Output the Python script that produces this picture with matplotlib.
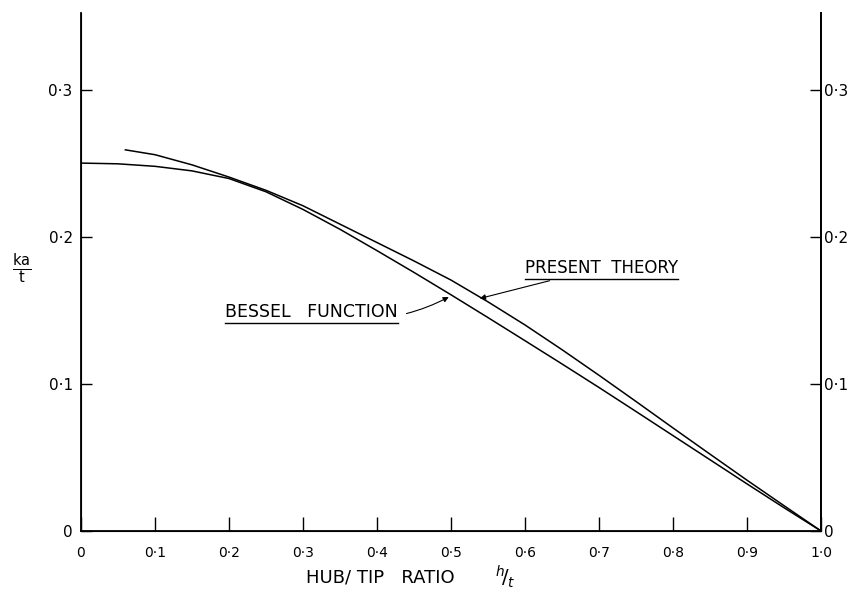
import matplotlib
matplotlib.use("Agg")
import matplotlib.pyplot as plt
from matplotlib.lines import Line2D
from matplotlib.text import Text

# values
bessel_x = [0.00, 0.05, 0.10, 0.15, 0.20, 0.25, 0.30, 0.35, 0.40, 0.45, 0.50,
            0.55, 0.60, 0.65, 0.70, 0.75, 0.80, 0.85, 0.90, 0.95, 1.00]
bessel_y = [0.250, 0.2495, 0.2478, 0.2447, 0.2395, 0.2305, 0.2185, 0.205, 0.1905,
            0.1757, 0.1605, 0.145, 0.1293, 0.1135, 0.0975, 0.0812, 0.0648, 0.0484,
            0.032, 0.0158, 0.000]

theory_x = [0.06, 0.10, 0.15, 0.20, 0.25, 0.30, 0.35, 0.40, 0.45, 0.50, 0.55,
            0.60, 0.65, 0.70, 0.75, 0.80, 0.85, 0.90, 0.95, 1.00]
theory_y = [0.259, 0.2557, 0.2488, 0.2405, 0.2315, 0.221, 0.2085, 0.196, 0.1835,
            0.1705, 0.1557, 0.140, 0.1232, 0.1058, 0.088, 0.070, 0.0522, 0.0345,
            0.0172, 0.000]

x_ticks = [0.0, 0.1, 0.2, 0.3, 0.4, 0.5, 0.6, 0.7, 0.8, 0.9, 1.0]
x_tick_labels = ["0", "0·1", "0·2", "0·3", "0·4", "0·5", "0·6", "0·7", "0·8", "0·9", "1·0"]
y_ticks = [0.0, 0.1, 0.2, 0.3]
y_tick_labels = ["0", "0·1", "0·2", "0·3"]

fig = plt.figure(figsize=(8.57, 5.93), dpi=100)
ax = fig.add_axes([0.0945, 0.1046, 0.8635, 0.8735])

ax.plot(bessel_x, bessel_y, color="black", lw=1.1)
ax.plot(theory_x, theory_y, color="black", lw=1.1)

ax.set_xlim(0, 1.0)
ax.set_ylim(0, 0.352)

ax.spines["top"].set_visible(False)
for s in ["left", "right", "bottom"]:
    ax.spines[s].set_linewidth(1.3)

ax.set_xticks(x_ticks)
ax.set_xticklabels(x_tick_labels)
ax.set_yticks(y_ticks)
ax.set_yticklabels(y_tick_labels)
ax.tick_params(axis="x", direction="in", length=10, width=1, pad=11, labelsize=10)
ax.tick_params(axis="y", direction="in", length=8, width=1, pad=6, labelsize=11,
               left=True, right=False)

# right hand scale, labels sit close to the spine
ax2 = ax.twinx()
ax2.set_ylim(ax.get_ylim())
ax2.set_yticks(y_ticks)
ax2.set_yticklabels(y_tick_labels)
ax2.spines["top"].set_visible(False)
ax2.spines["right"].set_linewidth(1.3)
ax2.tick_params(axis="y", direction="in", length=8, width=1, pad=2, labelsize=11)

# axis titles
ax.text(0.405, -0.09, "HUB/ TIP   RATIO", transform=ax.transAxes,
        ha="center", va="center", fontsize=13)
ax.text(0.574, -0.088, r"$^{h}\!/_{t}$", transform=ax.transAxes,
        ha="center", va="center", fontsize=14)
fig.text(22 / 857, 1 - 268 / 593, r"$\frac{\mathrm{ka}}{\mathrm{t}}$",
         ha="center", va="center", fontsize=15)

# curve labels with arrows
t1 = ax.annotate("BESSEL   FUNCTION", xy=(0.497, 0.159), xytext=(0.312, 0.149),
                 ha="center", va="center", fontsize=12.5,
                 arrowprops=dict(arrowstyle="-|>", color="black", lw=0.8,
                                 shrinkA=4, shrinkB=0, mutation_scale=8,
                                 connectionstyle="arc3,rad=0.2"))
t2 = ax.annotate("PRESENT  THEORY", xy=(0.539, 0.158), xytext=(0.703, 0.179),
                 ha="center", va="center", fontsize=12,
                 arrowprops=dict(arrowstyle="-|>", color="black", lw=0.8,
                                 shrinkA=4, shrinkB=0, mutation_scale=8))

# underline both labels (text box only, not the arrow)
fig.canvas.draw()
r = fig.canvas.get_renderer()
W, H = fig.get_size_inches() * fig.dpi
for t in (t1, t2):
    bb = Text.get_window_extent(t, r)
    yl = (bb.y0 - 2) / H
    fig.add_artist(Line2D([bb.x0 / W, bb.x1 / W], [yl, yl], color="black", lw=1.0))

fig.savefig("out.png", dpi=100)
